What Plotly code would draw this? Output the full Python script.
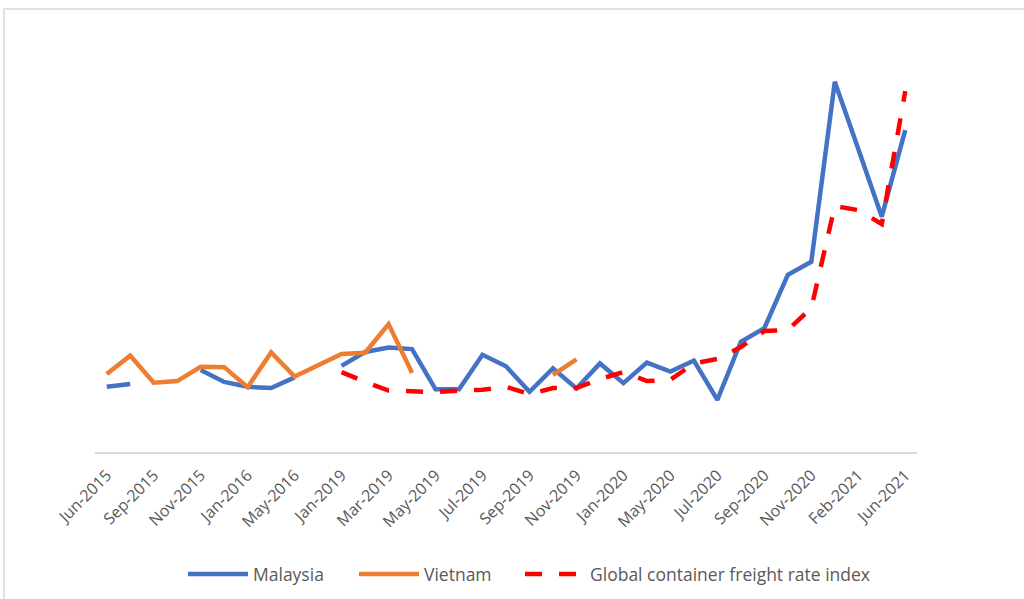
import plotly.graph_objects as go

categories = [
    "Jun-2015", "Aug-2015", "Sep-2015", "Oct-2015", "Nov-2015", "Dec-2015",
    "Jan-2016", "Mar-2016", "May-2016", "Dec-2018", "Jan-2019", "Feb-2019",
    "Mar-2019", "Apr-2019", "May-2019", "Jun-2019", "Jul-2019", "Aug-2019",
    "Sep-2019", "Oct-2019", "Nov-2019", "Dec-2019", "Jan-2020", "Mar-2020",
    "May-2020", "Jun-2020", "Jul-2020", "Aug-2020", "Sep-2020", "Oct-2020",
    "Nov-2020", "Dec-2020", "Feb-2021", "Apr-2021", "Jun-2021",
]

malaysia = [
    15.9, 16.6, None, None, 20.0, 17.1, 15.9, 15.6, 18.2, None,
    21.0, 24.4, 25.5, 25.1, 15.3, 15.3, 23.7, 20.9, 14.7, 20.4,
    15.5, 21.6, 16.8, 21.8, 19.6, 22.3, 12.7, 26.9, 30.2, 43.2,
    46.4, 90.3, 73.9, 57.4, 78.5,
]

vietnam = [
    19.0, 23.5, 16.9, 17.3, 20.8, 20.7, 15.8, 24.3, 18.4, 21.0,
    23.9, 24.2, 31.2, 19.3, None, None, None, None, None, 18.8,
    22.6, None, None, None, None, None, None, None, None, None,
    None, None, None, None, None,
]

freight_index = [
    None, None, None, None, None, None, None, None, None, None,
    19.5, 17.1, 15.0, 14.8, 14.6, 15.0, 15.2, 15.9, 14.1, 15.6,
    15.6, 17.8, 19.5, 17.3, 17.6, 21.6, 22.7, 25.6, 29.5, 29.8,
    35.1, 60.0, 59.0, 55.6, 88.0,
]

tick_labels = categories[::2]

font_family = "Open Sans, Lato, sans-serif"
text_color = "#595959"

fig = go.Figure()
fig.add_trace(go.Scatter(
    x=categories, y=malaysia, name="Malaysia", mode="lines",
    line=dict(color="#4472C4", width=4.5), connectgaps=False,
    legend="legend",
))
fig.add_trace(go.Scatter(
    x=categories, y=vietnam, name="Vietnam", mode="lines",
    line=dict(color="#ED7D31", width=4.5), connectgaps=False,
    legend="legend",
))
fig.add_trace(go.Scatter(
    x=categories, y=freight_index, name="Global container freight rate index",
    mode="lines", line=dict(color="#FF0000", width=4.5, dash="17px,17px"),
    connectgaps=False, legend="legend2",
))

L, R, T, B = 95, 107, 42, 147
W, H = 1024, 599
pw, ph = W - L - R, H - T - B

def px_x(x):
    return (x - L) / pw

def px_y(y):
    return (H - B - y) / ph

legend_common = dict(
    orientation="h", xanchor="left", y=px_y(574), yanchor="middle",
    font=dict(family=font_family, color=text_color, size=17.5),
    itemwidth=60, tracegroupgap=0, bgcolor="rgba(0,0,0,0)",
)

fig.update_layout(
    width=W, height=H,
    margin=dict(l=L, r=R, t=T, b=B, autoexpand=False),
    paper_bgcolor="white", plot_bgcolor="white",
    font=dict(family=font_family, color=text_color, size=16),
    showlegend=True,
    legend=dict(x=px_x(183), entrywidth=96, **legend_common),
    legend2=dict(x=px_x(520), **legend_common),
    xaxis=dict(
        type="category", categoryorder="array", categoryarray=categories,
        range=[-0.5, len(categories) - 0.5],
        tickmode="array", tickvals=tick_labels, ticktext=tick_labels,
        tickangle=-45, ticks="", showgrid=False, zeroline=False,
        showline=True, linecolor="#d9d9d9", linewidth=1.5,
        tickfont=dict(family=font_family, color=text_color, size=16),
        ticklabelstandoff=6,
    ),
    yaxis=dict(
        range=[0, 100], showgrid=False, zeroline=False, showline=False,
        showticklabels=False, ticks="",
    ),
    shapes=[dict(
        type="rect", xref="paper", yref="paper",
        x0=px_x(4), x1=px_x(1040), y0=px_y(620), y1=px_y(9),
        line=dict(color="#d9d9d9", width=1.5), fillcolor="rgba(0,0,0,0)",
        layer="below",
    )],
)

fig.write_html("out.html")
